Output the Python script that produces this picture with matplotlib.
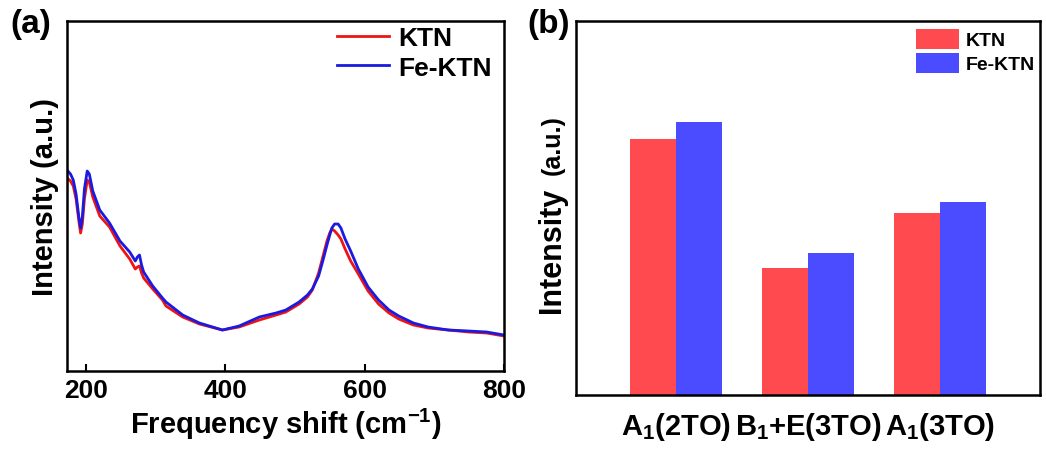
import matplotlib
matplotlib.use("Agg")
import matplotlib.pyplot as plt
import numpy as np

plt.rcParams['font.family'] = ['Liberation Sans', 'DejaVu Sans']
plt.rcParams['font.weight'] = 'bold'
plt.rcParams['mathtext.fontset'] = 'custom'
plt.rcParams['mathtext.rm'] = 'Liberation Sans:bold'
plt.rcParams['mathtext.it'] = 'Liberation Sans:bold'
plt.rcParams['mathtext.bf'] = 'Liberation Sans:bold'
plt.rcParams['mathtext.default'] = 'rm'

# ---- Panel (a): Raman spectra ----
shift = [173, 178, 182, 186, 190, 192.5, 195, 198, 202, 205,
         210, 220, 234, 249, 263, 271, 274, 277, 280, 283,
         296, 310, 315, 339, 363, 396, 420, 449, 473, 487,
         506, 518, 525, 534, 540, 546, 550, 553, 557, 562,
         566, 572, 580, 591, 605, 620, 635, 649, 670, 691,
         720, 749, 775, 800]
ktn = [193, 190, 185, 172, 150, 138, 147, 172, 191, 189,
       174, 155, 144, 125, 112, 102, 104, 105, 98, 93,
       82, 71, 65, 54, 47, 41, 44, 51, 56, 59,
       67, 74, 81, 98, 114, 130, 138, 142, 140, 136,
       132, 122, 110, 97, 80, 67, 58, 52, 46, 43,
       41, 39, 38, 35]
fe_ktn = [201, 197, 191, 177, 154, 143, 154, 182, 200, 197,
          180, 161, 148, 130, 119, 110, 114, 116, 106, 99,
          85, 73, 69, 56, 48, 41, 45, 54, 58, 61,
          69, 76, 82, 95, 110, 126, 136, 143, 147, 147,
          143, 132, 120, 102, 84, 71, 61, 55, 48, 44,
          41, 40, 39, 36]
x_ticks = [200, 400, 600, 800]

# ---- Panel (b): mode intensities ----
modes = ['A$_1$(2TO)', 'B$_1$+E(3TO)', 'A$_1$(3TO)']
ktn_int = [256, 127, 182]
fe_ktn_int = [273, 142, 193]

W, H = 1046, 452
fig = plt.figure(figsize=(W / 100, H / 100), dpi=100)

red_line = '#EE1414'
blue_line = '#1A1AE0'
red_bar = '#FF4B4F'
blue_bar = '#4B4BFF'

# Panel a
axa = fig.add_axes([67 / W, 1 - 372 / H, 437 / W, 350 / H])
axa.plot(shift, ktn, color=red_line, lw=2.0, label='KTN')
axa.plot(shift, fe_ktn, color=blue_line, lw=2.0, label='Fe-KTN')
axa.set_xlim(173, 800)
axa.set_ylim(0, 350)
axa.set_xticks(x_ticks)
axa.set_yticks([])
axa.tick_params(axis='x', direction='in', length=5, width=1.5, labelsize=19, pad=5)
for s in axa.spines.values():
    s.set_linewidth(1.8)
axa.set_xlabel('Frequency shift (cm$^{-1}$)', fontsize=21, fontweight='bold', labelpad=3)
axa.set_ylabel('Intensity (a.u.)', fontsize=21, fontweight='bold', labelpad=6)
axa.legend(loc='upper left', bbox_to_anchor=(0.605, 1.0), frameon=False,
           fontsize=19, handlelength=2.0, handletextpad=0.35, labelspacing=0.2,
           borderpad=0.2, borderaxespad=0)

# Panel b
axb = fig.add_axes([576 / W, 1 - 396 / H, 464 / W, 374 / H])
xpos = np.arange(len(modes))
bw = 0.35
axb.bar(xpos - bw / 2, ktn_int, width=bw, color=red_bar, label='KTN')
axb.bar(xpos + bw / 2, fe_ktn_int, width=bw, color=blue_bar, label='Fe-KTN')
axb.set_xlim(-0.758, 2.758)
axb.set_ylim(0, 374)
axb.set_xticks(xpos)
axb.set_xticklabels(modes)
axb.set_yticks([])
axb.tick_params(axis='x', length=0, labelsize=21, pad=11)
for s in axb.spines.values():
    s.set_linewidth(1.8)
axb.legend(loc='upper left', bbox_to_anchor=(0.725, 0.99), frameon=False,
           fontsize=14, handlelength=2.2, handleheight=1.2, handletextpad=0.35,
           labelspacing=0.18, borderpad=0.2, borderaxespad=0)
# y label with two sizes, sharing one baseline
fig.text(560 / W, 1 - 313 / H, 'Intensity', rotation=90, fontsize=22,
         fontweight='bold', ha='left', va='baseline', rotation_mode='anchor')
fig.text(560 / W, 1 - 175 / H, '(a.u.)', rotation=90, fontsize=18,
         fontweight='bold', ha='left', va='baseline', rotation_mode='anchor')

fig.text(10 / W, 1 - 25 / H, '(a)', fontsize=24, fontweight='bold', ha='left', va='center')
fig.text(527 / W, 1 - 25 / H, '(b)', fontsize=24, fontweight='bold', ha='left', va='center')

fig.savefig('out.png', dpi=100)
